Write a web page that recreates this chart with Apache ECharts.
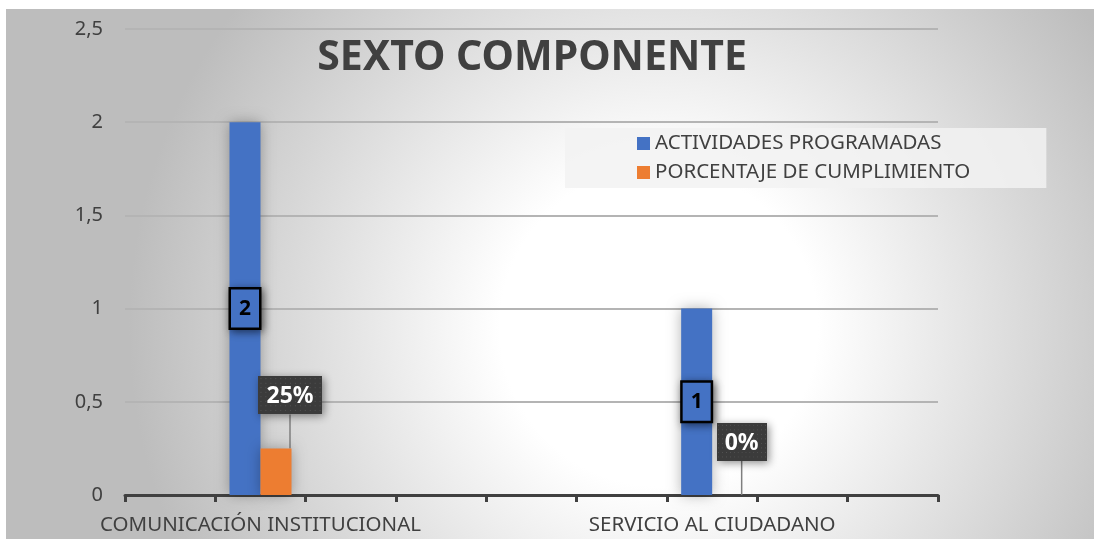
<!DOCTYPE html>
<html>
<head>
<meta charset="utf-8">
<script src="https://cdn.jsdelivr.net/npm/echarts@6/dist/echarts.min.js"></script>
<style>
html, body { margin: 0; padding: 0; background: #fff; }
#chart { width: 1094px; height: 539px; }
</style>
</head>
<body>
<div id="chart"></div>
<script>
// categorias (solo dos con nombre, el resto vacias como en el original)
const categories = ['', 'COMUNICACIÓN INSTITUCIONAL', '', '', '', '', 'SERVICIO AL CIUDADANO', '', ''];
const programadas = ['-', 2, '-', '-', '-', '-', 1, '-', '-'];
const cumplimiento = ['-', 0.25, '-', '-', '-', '-', 0, '-', '-'];
const seriesNames = ['ACTIVIDADES PROGRAMADAS', 'PORCENTAJE DE CUMPLIMIENTO'];

const font = '"Noto Sans", sans-serif';
const chart = echarts.init(document.getElementById('chart'));

// fondo punteado oscuro para las etiquetas de porcentaje
const makeDots = (w, h) => {
  const c = document.createElement('canvas');
  c.width = w; c.height = h;
  const ctx = c.getContext('2d');
  ctx.fillStyle = '#3b3b3b';
  ctx.fillRect(0, 0, w, h);
  ctx.fillStyle = '#575757';
  for (let y = 2; y < h; y += 5) {
    for (let x = 2; x < w; x += 5) ctx.fillRect(x, y, 1, 1);
  }
  return c;
};
const dots = makeDots(64, 42);

const option = {
  animation: false,
  graphic: [{
    type: 'rect',
    z: -10,
    silent: true,
    shape: { x: 6, y: 9, width: 1088, height: 530 },
    style: {
      fill: new echarts.graphic.RadialGradient(0.6, 0.6, 1.0, [
        { offset: 0, color: '#ffffff' },
        { offset: 0.3, color: '#ffffff' },
        { offset: 1, color: '#bdbdbd' }
      ])
    }
  }],
  title: {
    text: 'SEXTO COMPONENTE',
    left: 527,
    top: 33,
    textAlign: 'center',
    textStyle: { fontFamily: font, fontSize: 41, fontWeight: 'bold', color: '#404040' }
  },
  legend: {
    orient: 'vertical',
    left: 565,
    top: 128,
    icon: 'rect',
    itemWidth: 13,
    itemHeight: 13,
    itemGap: 8,
    padding: [5, 76, 5, 72],
    backgroundColor: 'rgba(242,242,242,0.85)',
    textStyle: { fontFamily: font, fontSize: 20.5, color: '#404040' },
    data: seriesNames
  },
  grid: { left: 125, right: 156, top: 29, bottom: 44 },
  xAxis: {
    type: 'category',
    data: categories,
    axisLine: { lineStyle: { color: '#404040', width: 3 } },
    axisTick: { show: true, length: 7, lineStyle: { color: '#404040', width: 3 } },
    axisLabel: { interval: 0, fontFamily: font, fontSize: 20.5, color: '#404040', margin: 20 }
  },
  yAxis: {
    type: 'value',
    min: 0,
    max: 2.5,
    interval: 0.5,
    axisLine: { show: false },
    axisTick: { show: false },
    axisLabel: {
      fontFamily: font, fontSize: 20, color: '#404040', margin: 22,
      formatter: v => String(v).replace('.', ',')
    },
    splitLine: { lineStyle: { color: '#b4b4b4', width: 2 } }
  },
  series: [
    {
      name: seriesNames[0],
      type: 'bar',
      data: programadas,
      barWidth: 31,
      barGap: '0%',
      itemStyle: { color: '#4472c4', shadowBlur: 14, shadowColor: 'rgba(0,0,0,0.3)' },
      label: {
        show: true,
        position: 'inside',
        fontFamily: font,
        fontSize: 21,
        fontWeight: 'bold',
        color: '#000',
        backgroundColor: '#4472c4',
        borderColor: '#000',
        borderWidth: 2.5,
        padding: [10, 8, 7, 8],
        shadowBlur: 8,
        shadowColor: 'rgba(0,0,0,0.45)',
        shadowOffsetX: 2,
        shadowOffsetY: 2
      }
    },
    {
      name: seriesNames[1],
      type: 'bar',
      data: cumplimiento,
      barWidth: 31,
      itemStyle: { color: '#ed7d31', shadowBlur: 14, shadowColor: 'rgba(0,0,0,0.3)' },
      label: {
        show: true,
        position: 'top',
        distance: 0,
        formatter: p => Math.round(p.value * 100) + '%',
        fontFamily: font,
        fontSize: 23,
        fontWeight: 'bold',
        color: '#fff',
        backgroundColor: { image: dots },
        padding: [9, 8, 6, 8],
        shadowBlur: 8,
        shadowColor: 'rgba(0,0,0,0.45)',
        shadowOffsetX: 2,
        shadowOffsetY: 2
      },
      labelLayout: { dx: 14, dy: -34 },
      labelLine: { show: true, lineStyle: { color: '#7f7f7f', width: 1.5 } }
    }
  ]
};

chart.setOption(option);
</script>
</body>
</html>
